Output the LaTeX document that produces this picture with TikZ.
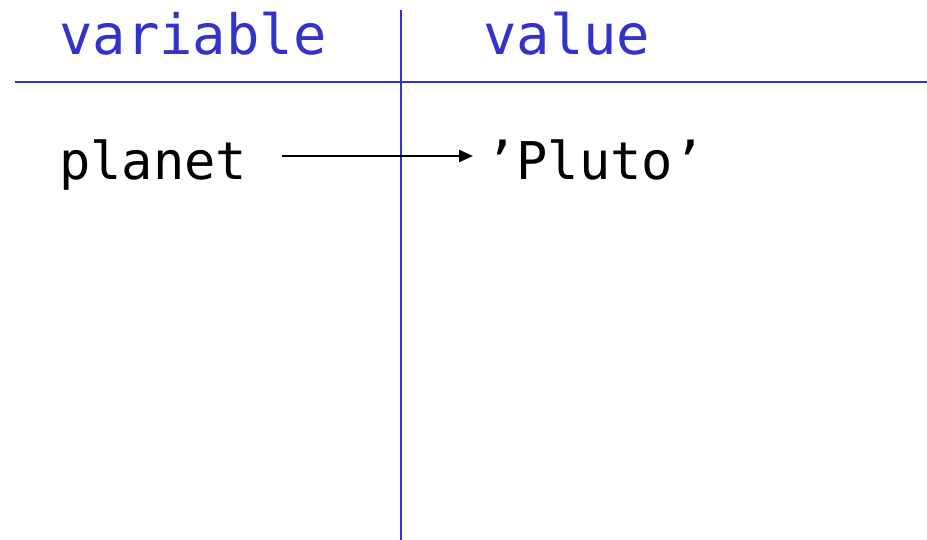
\documentclass[tikz,border=0pt]{standalone}
\usepackage{fontspec}
\setmonofont{DejaVu Sans Mono}
\usetikzlibrary{arrows.meta}
\definecolor{tblue}{HTML}{3333CC}
\begin{document}
\begin{tikzpicture}[x=1pt,y=-1pt,
  hdr/.style={font=\ttfamily\fontsize{55.5}{60}\selectfont, text=tblue, inner sep=0pt, anchor=base west},
  cell/.style={font=\ttfamily\fontsize{52}{60}\selectfont, text=black, inner sep=0pt, anchor=base west},
  rule/.style={draw=tblue, line width=2.8pt},
  ptr/.style={draw=black, line width=2.3pt, -{Triangle[length=14pt,width=12pt]}}]
\useasboundingbox (0,0) rectangle (927,540);
\coordinate (vtop) at (401,10);
\coordinate (vbot) at (401,540);
\coordinate (hl) at (15,82);
\coordinate (hr) at (927,82);
\draw[rule] (vtop) -- (vbot);
\draw[rule] (hl) -- (hr);
\node[hdr] (var) at (59,55) {variable};
\node[hdr] (val) at (483,55) {value};
\node[cell] (planet) at (59,180) {planet};
\node[cell] (pluto) at (485,180) {’Pluto’};
\coordinate (as) at (282,156);
\draw[ptr] (as) -- ([xshift=-12pt]pluto.west |- as);
\end{tikzpicture}
\end{document}
